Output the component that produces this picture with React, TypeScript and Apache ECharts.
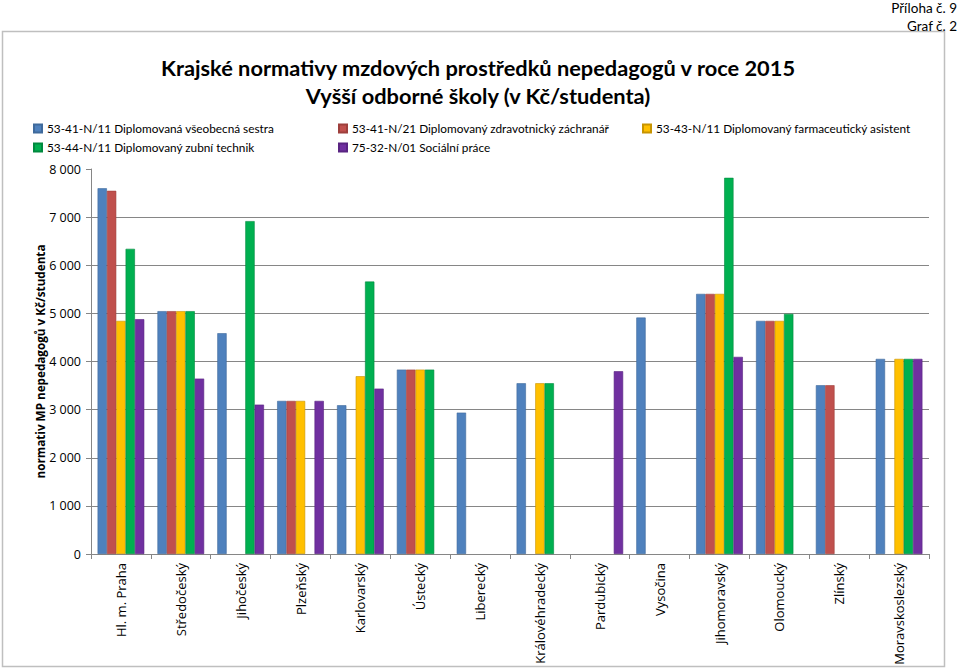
import React, { useEffect, useRef } from "react";
import * as echarts from "echarts";

const regions = [
  "Hl. m. Praha",
  "Středočeský",
  "Jihočeský",
  "Plzeňský",
  "Karlovarský",
  "Ústecký",
  "Liberecký",
  "Královéhradecký",
  "Pardubický",
  "Vysočina",
  "Jihomoravský",
  "Olomoucký",
  "Zlínský",
  "Moravskoslezský",
];

const seriesNames = [
  "53-41-N/11 Diplomovaná všeobecná sestra",
  "53-41-N/21 Diplomovaný zdravotnický záchranář",
  "53-43-N/11 Diplomovaný farmaceutický asistent",
  "53-44-N/11 Diplomovaný zubní technik",
  "75-32-N/01 Sociální práce",
];

const seriesColors = ["#4F81BD", "#C0504D", "#FFC000", "#00B050", "#7030A0"];
const seriesBorders = ["#3f6a9c", "#9e3f3c", "#c79400", "#00893f", "#592482"];

const sestra = [7600, 5046, 4588, 3181, 3091, 3832, 2938, 3548, null, 4913, 5405, 4844, 3507, 4054];
const zachranar = [7547, 5046, null, 3181, null, 3832, null, null, null, null, 5405, 4844, 3507, null];
const farmaceut = [4844, 5046, null, 3181, 3694, 3832, null, 3548, null, null, 5405, 4844, null, 4054];
const technik = [6341, 5046, 6917, null, 5661, 3832, null, 3548, null, null, 7817, 4990, null, 4054];
const socialni = [4879, 3645, 3104, 3181, 3437, null, null, null, 3798, null, 4096, null, null, 4054];

const seriesData = [sestra, zachranar, farmaceut, technik, socialni];

const titleLines = [
  "Krajské normativy mzdových prostředků nepedagogů v roce 2015",
  "Vyšší odborné školy (v Kč/studenta)",
];
const yAxisTitle = "normativ MP nepedagogů v Kč/studenta";
const cornerLines = ["Příloha č. 9", "Graf č. 2"];

const LABEL_FONT = "'Open Sans', 'Noto Sans', sans-serif";
const LEGEND_FONT = "Lato, 'Open Sans', sans-serif";

function fmt(v: number): string {
  return String(v).replace(/\B(?=(\d{3})+(?!\d))/g, " ");
}

export default function App() {
  const ref = useRef<HTMLDivElement>(null);

  useEffect(() => {
    document.body.style.margin = "0";
    if (!ref.current) return;
    const chart = echarts.init(ref.current, null, { renderer: "svg" });

    const legendGroups = [
      [seriesNames[0], seriesNames[3]],
      [seriesNames[1], seriesNames[4]],
      [seriesNames[2]],
    ];
    const legendLefts = [33, 338, 642];

    chart.setOption({
      animation: false,
      backgroundColor: "#ffffff",
      title: {
        text: titleLines.join("\n"),
        left: 473,
        top: 48,
        textAlign: "center",
        textStyle: {
          fontFamily: LEGEND_FONT,
          fontSize: 21.8,
          fontWeight: "bold",
          color: "#000000",
          lineHeight: 28,
        },
      },
      legend: legendGroups.map((g, i) => ({
        data: g,
        orient: "vertical",
        left: legendLefts[i],
        top: 121,
        padding: 0,
        itemGap: 4,
        itemWidth: 8,
        itemHeight: 8,
        icon: "rect",
        selectedMode: false,
        textStyle: {
          fontFamily: LEGEND_FONT,
          fontSize: 11.8,
          color: "#000000",
          lineHeight: 15,
        },
      })),
      grid: {
        left: 91,
        right: 30,
        top: 169,
        bottom: 114,
        containLabel: false,
      },
      xAxis: {
        type: "category",
        data: regions,
        axisLine: { lineStyle: { color: "#868686", width: 1 } },
        axisTick: { show: true, length: 5, lineStyle: { color: "#868686" } },
        axisLabel: {
          rotate: 90,
          margin: 9,
          interval: 0,
          fontFamily: LABEL_FONT,
          fontSize: 13,
          color: "#000000",
        },
      },
      yAxis: {
        type: "value",
        min: 0,
        max: 8000,
        interval: 1000,
        name: yAxisTitle,
        nameLocation: "middle",
        nameRotate: 90,
        nameGap: 45,
        nameMoveOverlap: false,
        nameTextStyle: {
          fontFamily: LABEL_FONT,
          fontSize: 11.7,
          fontWeight: "bold",
          color: "#000000",
        },
        axisLine: { show: true, lineStyle: { color: "#868686", width: 1 } },
        axisTick: { show: true, length: 5, lineStyle: { color: "#868686" } },
        axisLabel: {
          margin: 10,
          fontFamily: LABEL_FONT,
          fontSize: 12.5,
          color: "#000000",
          formatter: (v: number) => fmt(v),
        },
        splitLine: {
          show: true,
          showMaxLine: false,
          lineStyle: { color: "#868686", width: 1 },
        },
      },
      series: seriesNames.map((name, i) => ({
        name,
        type: "bar",
        data: seriesData[i],
        barGap: "0%",
        barCategoryGap: "22%",
        itemStyle: {
          color: seriesColors[i],
          borderColor: seriesBorders[i],
          borderWidth: 0.6,
        },
      })),
      graphic: [
        {
          type: "rect",
          shape: { x: 2.5, y: 31.5, width: 942, height: 635 },
          style: { fill: "none", stroke: "#bfbfbf", lineWidth: 1.5 },
          silent: true,
          z: -1,
        },
        ...cornerLines.map((t, i) => ({
          type: "text",
          x: 957,
          y: 8 + i * 18,
          style: {
            text: t,
            fontFamily: LEGEND_FONT,
            fontSize: 13.5,
            fill: "#000000",
            textAlign: "right",
            textVerticalAlign: "middle",
          },
        })),
      ],
    });

    return () => {
      chart.dispose();
    };
  }, []);

  return <div ref={ref} style={{ width: 959, height: 668 }} />;
}
